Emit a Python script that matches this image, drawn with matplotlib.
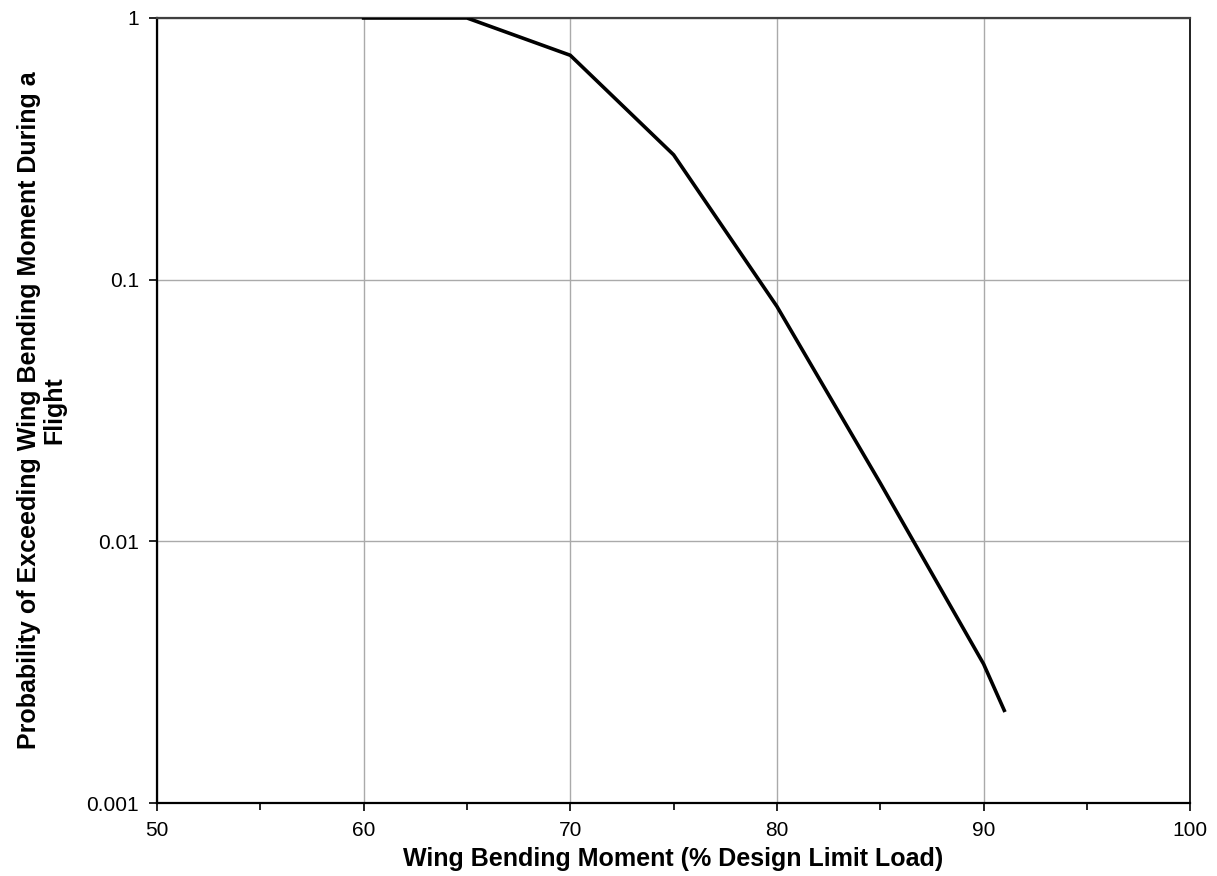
import numpy as np
import matplotlib
matplotlib.use("Agg")
import matplotlib.pyplot as plt
from matplotlib.ticker import FixedLocator, NullLocator, FixedFormatter

plt.rcParams['font.family'] = ['Liberation Sans', 'DejaVu Sans']

# wing bending moment (% DLL) vs probability of exceedance
moment = [60, 65, 70, 75, 80, 85, 90, 91]
prob = [1.0, 1.0, 0.72, 0.30, 0.079, 0.0167, 0.0034, 0.00226]

xticks = [50, 60, 70, 80, 90, 100]
yticks = [0.001, 0.01, 0.1, 1]
ylabels = ['0.001', '0.01', '0.1', '1']

fig = plt.figure(figsize=(12.17, 8.76), dpi=100)
ax = fig.add_axes([0.129, 0.0833, 0.849, 0.8962])

ax.plot(moment, prob, color='black', lw=2.6, solid_joinstyle='miter', zorder=3)

ax.set_yscale('log')
ax.set_xlim(50, 100)
ax.set_ylim(0.001, 1)

ax.xaxis.set_major_locator(FixedLocator(xticks))
ax.xaxis.set_minor_locator(FixedLocator([55, 65, 75, 85, 95]))
ax.yaxis.set_major_locator(FixedLocator(yticks))
ax.yaxis.set_major_formatter(FixedFormatter(ylabels))
ax.yaxis.set_minor_locator(NullLocator())

ax.grid(True, which='major', color='#aaaaaa', lw=1)
for s in ['left', 'bottom']:
    ax.spines[s].set_color('black')
    ax.spines[s].set_linewidth(1.6)
ax.spines['top'].set_color('#404040')
ax.spines['top'].set_linewidth(1.6)
ax.spines['right'].set_color('#202020')
ax.spines['right'].set_linewidth(1.4)

ax.tick_params(which='major', direction='out', length=6, width=1.2, labelsize=15, pad=7)
ax.tick_params(which='minor', direction='out', length=5, width=1.2)
ax.tick_params(top=False, right=False)

ax.set_xlabel('Wing Bending Moment (% Design Limit Load)', fontsize=18, fontweight='bold', labelpad=5)
ax.set_ylabel('Probability of Exceeding Wing Bending Moment During a\nFlight',
              fontsize=18, fontweight='bold', labelpad=14, linespacing=1.1)

fig.savefig('out.png', dpi=100)
